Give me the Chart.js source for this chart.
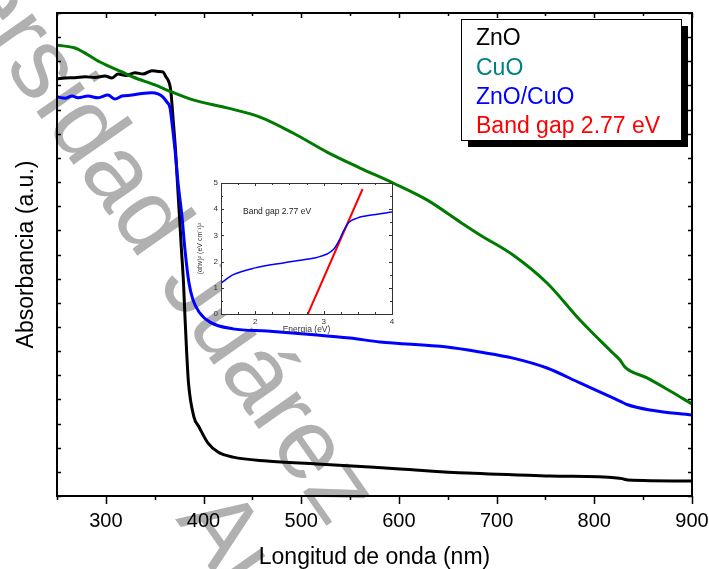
<!DOCTYPE html>
<html>
<head>
<meta charset="utf-8">
<script src="https://cdn.jsdelivr.net/npm/chart.js@4/dist/chart.umd.min.js"></script>
<style>
  html, body { margin: 0; padding: 0; background: #fff; }
  #wrap { position: relative; width: 709px; height: 569px; overflow: hidden; }
  #main { position: absolute; left: 0; top: 0; }
  #inset { position: absolute; left: 190px; top: 170px; }
</style>
</head>
<body>
<div id="wrap">
  <canvas id="main" width="709" height="569"></canvas>
  <canvas id="inset" width="215" height="175"></canvas>
</div>
<script>
// ---- UV-Vis absorbance spectra (wavelength in nm, absorbance in arbitrary units) ----
const wavelengthZnO = [250, 258.2, 268.4, 278.7, 288.9, 299.1, 306.3, 312.4, 320.6, 329.8, 338, 347.2, 353.4, 358.5, 361.6, 363.6, 365.7, 366.7, 368.7, 371.3, 373.3, 375.4, 377.4, 379.5, 381, 382.6, 384.6, 390.2, 395.4, 404.6, 414.8, 430.2, 465, 516.1, 601.1, 669.7, 754.6, 823.2, 828.3, 834.5, 900];
const absZnO        = [17.27, 17.31, 17.32, 17.36, 17.33, 17.39, 17.31, 17.47, 17.41, 17.53, 17.47, 17.61, 17.58, 17.56, 17.35, 17.23, 16.98, 16.69, 15.69, 14.33, 12.96, 11.55, 10.19, 8.82, 7.41, 6.05, 4.68, 3.27, 2.86, 2.19, 1.82, 1.61, 1.45, 1.33, 1.12, 0.95, 0.83, 0.75, 0.72, 0.66, 0.62];

const wavelengthCuO = [250, 268.4, 276.6, 294, 316.5, 327.8, 350.3, 362.6, 389.2, 424, 457.8, 491.6, 526.4, 560.2, 594, 628.7, 662.5, 683, 716.8, 751.6, 785.3, 819, 826.3, 831.4, 854, 877.5, 900];
const absCuO        = [18.67, 18.55, 18.39, 17.97, 17.56, 17.35, 17.02, 16.81, 16.40, 16.07, 15.69, 15.03, 14.24, 13.58, 12.96, 12.26, 11.35, 10.81, 9.98, 8.82, 7.29, 5.92, 5.63, 5.34, 4.89, 4.35, 3.81];

const wavelengthZnOCuO = [250, 258.2, 265.4, 271.5, 281.7, 292, 302.2, 309.4, 316.5, 326.8, 337, 347.2, 353.4, 358.5, 362.6, 365.7, 367.7, 370.8, 373.9, 378, 381, 385.1, 389.2, 395.4, 406.6, 430.2, 465, 516.1, 549.9, 580.6, 649.2, 683, 716.8, 751.6, 785.3, 819.1, 828.3, 833.4, 857, 900];
const absZnOCuO        = [16.53, 16.47, 16.56, 16.49, 16.56, 16.49, 16.60, 16.44, 16.56, 16.60, 16.67, 16.70, 16.65, 16.52, 16.31, 16.07, 15.45, 14.33, 12.96, 11.55, 10.19, 8.82, 8.12, 7.62, 7.20, 6.92, 6.83, 6.67, 6.54, 6.38, 6.17, 5.96, 5.71, 5.30, 4.68, 4.06, 3.89, 3.79, 3.56, 3.35];

// ---- Tauc plot of the ZnO/CuO sample (inset) ----
const energyTauc = [1.5, 1.68, 2.0, 2.41, 2.66, 2.9, 3.05, 3.15, 3.22, 3.29, 3.37, 3.49, 3.73, 4.0];
const taucValues = [1.18, 1.50, 1.76, 1.95, 2.05, 2.16, 2.29, 2.48, 2.77, 3.16, 3.50, 3.66, 3.79, 3.89];
const bandGap = 2.77;                 // eV, x-intercept of the linear fit
const fitEnergy = [bandGap, 3.57];
const fitValues = [0, 4.77];

// ---- axis ticks ----
const xTickLabels = [300, 400, 500, 600, 700, 800, 900];
const insetXTickLabels = [2, 3, 4];
const insetYTickLabels = [0, 1, 2, 3, 4, 5];

// ---- legend ----
const legendNames  = ['ZnO', 'CuO', 'ZnO/CuO', 'Band gap ' + bandGap + ' eV'];
const legendColors = ['#000000', '#008080', '#0000ff', '#ff0000'];

const FONT = '"Liberation Sans", Arial, Helvetica, sans-serif';

function toPoints(xs, ys) { return xs.map((x, i) => ({ x: x, y: ys[i] })); }

// repository stamp printed diagonally behind the plot
function drawWatermark(ctx) {
  const ang = 55 * Math.PI / 180;
  ctx.save();
  ctx.fillStyle = '#b0b0b0';
  ctx.font = '100px ' + FONT;
  ctx.textBaseline = 'alphabetic';
  const pre = ctx.measureText('Unive').width;
  ctx.translate(-15, 38);
  ctx.rotate(ang);
  ctx.fillText('Universidad Juárez', -pre, 0);
  ctx.restore();
  ctx.save();
  ctx.fillStyle = '#b0b0b0';
  ctx.font = '100px ' + FONT;
  ctx.translate(175, 519);
  ctx.rotate(ang);
  ctx.fillText('Autónoma de Tabasco', 0, 0);
  ctx.restore();
}

const mainPlugin = {
  id: 'mainDecor',
  beforeDraw(chart) {
    const ctx = chart.ctx;
    ctx.save();
    ctx.fillStyle = '#fff';
    ctx.fillRect(0, 0, chart.width, chart.height);
    ctx.restore();
    drawWatermark(ctx);
  },
  afterDatasetsDraw(chart) {
    const ctx = chart.ctx;
    const a = chart.chartArea;
    const xs = chart.scales.x, ys = chart.scales.y;
    ctx.save();
    ctx.strokeStyle = '#000';
    ctx.lineWidth = 2;
    ctx.strokeRect(a.left, a.top, a.right - a.left, a.bottom - a.top);
    ctx.lineWidth = 1.5;
    ctx.beginPath();
    for (let v = xs.min; v <= xs.max; v += 50) {
      const px = Math.round(xs.getPixelForValue(v)) + 0.5;
      const major = v % 100 === 0;
      // bottom: outward
      ctx.moveTo(px, a.bottom);
      ctx.lineTo(px, a.bottom + (major ? 8 : 4));
      // top: inward
      ctx.moveTo(px, a.top);
      ctx.lineTo(px, a.top + (major ? 5 : 3));
    }
    for (let v = ys.min; v <= ys.max; v += 1) {
      const py = Math.round(ys.getPixelForValue(v)) + 0.5;
      ctx.moveTo(a.left, py);
      ctx.lineTo(a.left + 4, py);
      ctx.moveTo(a.right, py);
      ctx.lineTo(a.right - 4, py);
    }
    ctx.stroke();
    ctx.restore();
  },
  afterDraw(chart) {
    const ctx = chart.ctx;
    const L = 461, T = 19, W = 220, H = 121;
    ctx.save();
    ctx.fillStyle = '#000';
    ctx.fillRect(L + 7, T + 7, W, H);
    ctx.fillStyle = '#fff';
    ctx.fillRect(L, T, W, H);
    ctx.strokeStyle = '#000';
    ctx.lineWidth = 1;
    ctx.strokeRect(L + 0.5, T + 0.5, W, H);
    ctx.font = '23px ' + FONT;
    ctx.textBaseline = 'middle';
    ctx.textAlign = 'left';
    legendNames.forEach((name, i) => {
      ctx.fillStyle = legendColors[i];
      ctx.fillText(name, L + 15, T + 20 + i * 29.3);
    });
    ctx.restore();
  }
};

new Chart(document.getElementById('main'), {
  type: 'line',
  data: {
    datasets: [
      { label: 'CuO', data: toPoints(wavelengthCuO, absCuO), borderColor: '#007a00' },
      { label: 'ZnO/CuO', data: toPoints(wavelengthZnOCuO, absZnOCuO), borderColor: '#0000ff' },
      { label: 'ZnO', data: toPoints(wavelengthZnO, absZnO), borderColor: '#000000' }
    ]
  },
  options: {
    responsive: false,
    animation: false,
    devicePixelRatio: 1,
    layout: { padding: { top: 13, right: 17, left: 0, bottom: 0 } },
    plugins: { legend: { display: false }, tooltip: { enabled: false } },
    elements: {
      point: { radius: 0 },
      line: { borderWidth: 3, cubicInterpolationMode: 'monotone', fill: false }
    },
    scales: {
      x: {
        type: 'linear', min: 250, max: 900,
        afterFit(s) { s.height = 73; s.paddingLeft = 0; s.paddingRight = 0; },
        grid: { display: false, drawTicks: false },
        border: { display: false },
        ticks: {
          stepSize: 50, autoSkip: false, maxRotation: 0, padding: 13,
          color: '#000', font: { family: FONT, size: 20 },
          callback: v => xTickLabels.includes(v) ? String(v) : ''
        },
        title: {
          display: true, text: 'Longitud de onda (nm)', color: '#000',
          font: { family: FONT, size: 23, lineHeight: 1 }, padding: { top: 0, bottom: 0 }
        }
      },
      y: {
        type: 'linear', min: 0, max: 20,
        afterFit(s) { s.width = 57; s.paddingTop = 0; s.paddingBottom = 0; },
        grid: { display: false, drawTicks: false },
        border: { display: false },
        ticks: { display: false, stepSize: 1 },
        title: {
          display: true, text: 'Absorbancia (a.u.)', color: '#000',
          font: { family: FONT, size: 23, lineHeight: 1 }, padding: { top: 15, bottom: 0 }
        }
      }
    }
  },
  plugins: [mainPlugin]
});

// ---- inset: Tauc plot ----
const insetPlugin = {
  id: 'insetDecor',
  beforeDatasetsDraw(chart) {
    const ctx = chart.ctx, a = chart.chartArea;
    ctx.save();
    ctx.fillStyle = '#fff';
    ctx.fillRect(a.left, a.top, a.right - a.left, a.bottom - a.top);
    ctx.restore();
  },
  afterDatasetsDraw(chart) {
    const ctx = chart.ctx, a = chart.chartArea;
    const xs = chart.scales.x, ys = chart.scales.y;
    ctx.save();
    ctx.strokeStyle = '#333';
    ctx.lineWidth = 1;
    ctx.strokeRect(a.left + 0.5, a.top + 0.5, a.right - a.left, a.bottom - a.top);
    ctx.beginPath();
    for (let v = xs.min; v <= xs.max + 1e-9; v += 0.25) {
      const px = Math.round(xs.getPixelForValue(v)) + 0.5;
      const major = Math.abs(v - Math.round(v)) < 1e-6;
      const len = major ? 3 : 2;
      ctx.moveTo(px, a.bottom); ctx.lineTo(px, a.bottom - len);
      ctx.moveTo(px, a.top); ctx.lineTo(px, a.top + len);
    }
    for (let v = ys.min; v <= ys.max + 1e-9; v += 0.5) {
      const py = Math.round(ys.getPixelForValue(v)) + 0.5;
      const major = Math.abs(v - Math.round(v)) < 1e-6;
      const len = major ? 3 : 2;
      ctx.moveTo(a.left, py); ctx.lineTo(a.left + len, py);
      ctx.moveTo(a.right, py); ctx.lineTo(a.right - len, py);
    }
    ctx.stroke();
    ctx.fillStyle = '#222';
    ctx.font = '8.5px ' + FONT;
    ctx.textBaseline = 'middle';
    ctx.fillText('Band gap ' + bandGap + ' eV', a.left + 22, a.top + 29);
    ctx.restore();
  }
};

new Chart(document.getElementById('inset'), {
  type: 'line',
  data: {
    datasets: [
      { data: toPoints(energyTauc, taucValues), borderColor: '#0000ff', borderWidth: 1.5, cubicInterpolationMode: 'monotone' },
      { data: toPoints(fitEnergy, fitValues), borderColor: '#ff0000', borderWidth: 2, tension: 0 }
    ]
  },
  options: {
    responsive: false,
    animation: false,
    devicePixelRatio: 1,
    layout: { padding: { top: 13, right: 13, left: 0, bottom: 0 } },
    plugins: { legend: { display: false }, tooltip: { enabled: false } },
    elements: { point: { radius: 0 }, line: { fill: false } },
    scales: {
      x: {
        type: 'linear', min: 1.5, max: 4,
        afterFit(s) { s.height = 31; s.paddingLeft = 0; s.paddingRight = 0; },
        grid: { display: false, drawTicks: false },
        border: { display: false },
        ticks: {
          stepSize: 0.5, autoSkip: false, maxRotation: 0, padding: 3,
          color: '#333', font: { family: FONT, size: 8 },
          callback: v => insetXTickLabels.includes(v) ? String(v) : ''
        },
        title: {
          display: true, text: 'Energia (eV)', color: '#333',
          font: { family: FONT, size: 8.5, lineHeight: 1 }, padding: { top: 0, bottom: 11 }
        }
      },
      y: {
        type: 'linear', min: 0, max: 5,
        afterFit(s) { s.width = 31; s.paddingTop = 0; s.paddingBottom = 0; },
        grid: { display: false, drawTicks: false },
        border: { display: false },
        ticks: {
          stepSize: 1, padding: 3,
          color: '#333', font: { family: FONT, size: 8 },
          callback: v => insetYTickLabels.includes(v) ? String(v) : ''
        },
        title: {
          display: true, text: '(\u03B1h\u03BD)\u00B2 (eV cm\u207B\u00B9)\u00B2', color: '#333',
          font: { family: FONT, size: 7, lineHeight: 1 }, padding: { top: 7, bottom: 0 }
        }
      }
    }
  },
  plugins: [insetPlugin]
});
</script>
</body>
</html>
